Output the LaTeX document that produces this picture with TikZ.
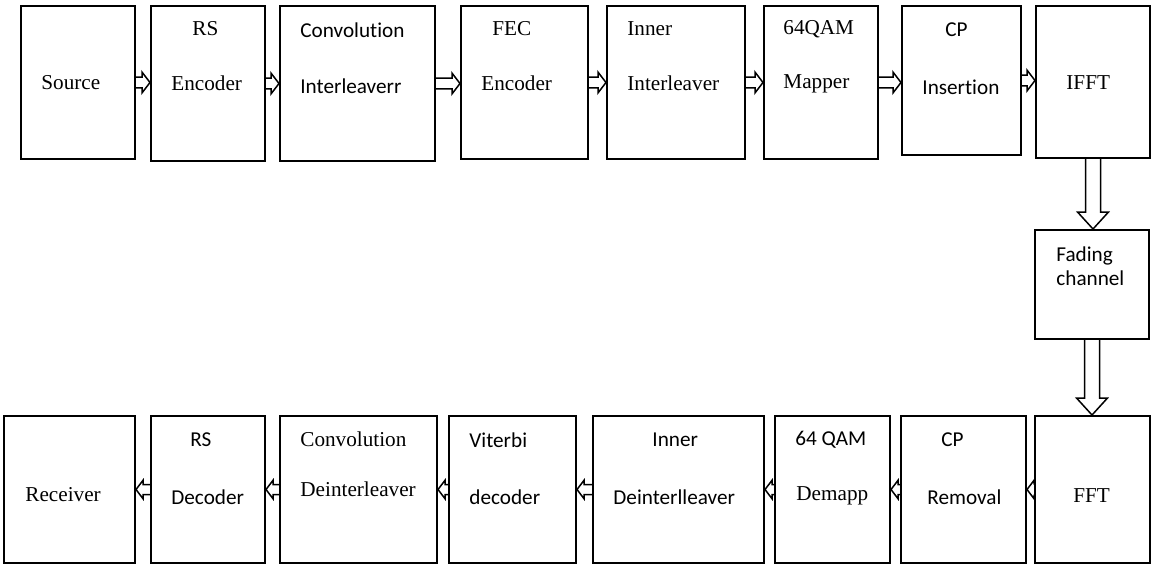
\documentclass[tikz,border=0pt]{standalone}
\usepackage{fontspec}
\setmainfont{Liberation Serif}
\newfontfamily\calfont[Ligatures=NoCommon]{Carlito}
\usetikzlibrary{calc}
\begin{document}
\begin{tikzpicture}[x=0.5pt,y=-0.5pt,
  blk/.style={draw, line width=1pt, inner sep=0pt, anchor=north west},
  lbl/.style={inner sep=0pt, anchor=west, font=\fontsize{10.6}{12}\selectfont},
  cal/.style={inner sep=0pt, anchor=west, font=\fontsize{10.6}{12}\selectfont\calfont},
  % hollow block arrows
  arrR/.style={line width=0.75pt, to path={let \p1=(\tikztostart), \p2=(\tikztotarget) in
    (\x1,\y1+2.7pt) -- (\x2-4pt,\y1+2.7pt) -- (\x2-4pt,\y1+5.2pt) -- (\x2,\y1)
    -- (\x2-4pt,\y1-5.2pt) -- (\x2-4pt,\y1-2.7pt) -- (\x1,\y1-2.7pt)}},
  arrL/.style={line width=0.75pt, to path={let \p1=(\tikztostart), \p2=(\tikztotarget) in
    (\x1,\y1+2.5pt) -- (\x2+3.5pt,\y1+2.5pt) -- (\x2+3.5pt,\y1+4.6pt) -- (\x2,\y1)
    -- (\x2+3.5pt,\y1-4.6pt) -- (\x2+3.5pt,\y1-2.5pt) -- (\x1,\y1-2.5pt)}},
  arrD/.style={line width=0.75pt, to path={let \p1=(\tikztostart), \p2=(\tikztotarget) in
    (\x1-3.75pt,\y1) -- (\x1-3.75pt,\y2+8.5pt) -- (\x1-7.75pt,\y2+8.5pt) -- (\x1,\y2)
    -- (\x1+7.75pt,\y2+8.5pt) -- (\x1+3.75pt,\y2+8.5pt) -- (\x1+3.75pt,\y1)}}
]
\useasboundingbox (0,0) rectangle (1151,563);

% transmitter chain
\node[blk, minimum width=57pt,   minimum height=76.5pt] (src)  at (20,5)   {};
\node[blk, minimum width=57pt,   minimum height=77.5pt] (rse)  at (150,5)  {};
\node[blk, minimum width=77.5pt, minimum height=77.5pt] (cvi)  at (279,5)  {};
\node[blk, minimum width=63.5pt, minimum height=76.5pt] (fec)  at (460,5)  {};
\node[blk, minimum width=69pt,   minimum height=76.5pt] (inr)  at (606,5)  {};
\node[blk, minimum width=57pt,   minimum height=76.5pt] (map)  at (763,5)  {};
\node[blk, minimum width=59.5pt, minimum height=74.5pt] (cpi)  at (901,5)  {};
\node[blk, minimum width=57pt,   minimum height=76pt]   (ifft) at (1035,5) {};

% channel
\node[blk, minimum width=57pt, minimum height=54.5pt] (fad) at (1034,229) {};

% receiver chain
\node[blk, minimum width=65.5pt, minimum height=73.5pt] (rcv) at (3,415)    {};
\node[blk, minimum width=57pt,   minimum height=73.5pt] (rsd) at (150,415)  {};
\node[blk, minimum width=78.5pt, minimum height=73.5pt] (cvd) at (279,415)  {};
\node[blk, minimum width=63.5pt, minimum height=73.5pt] (vit) at (448,415)  {};
\node[blk, minimum width=85.5pt, minimum height=73.5pt] (ind) at (592,415)  {};
\node[blk, minimum width=57.5pt, minimum height=73.5pt] (dem) at (774,415)  {};
\node[blk, minimum width=62.5pt, minimum height=73.5pt] (cpr) at (900,415)  {};
\node[blk, minimum width=57.5pt, minimum height=73.5pt] (fft) at (1034,415) {};

% labels, transmitter
\node[lbl] (l-src)  at (41,83)   {Source};
\node[lbl] (l-rs1)  at (192,29)  {RS};
\node[lbl] (l-rs2)  at (171,83)  {Encoder};
\node[cal] (l-cv1)  at (300,30)  {Convolution};
\node[cal] (l-cv2)  at (300,86)  {Interleaverr};
\node[lbl] (l-fe1)  at (492,29)  {FEC};
\node[lbl] (l-fe2)  at (481,83)  {Encoder};
\node[lbl] (l-in1)  at (627,29)  {Inner};
\node[lbl] (l-in2)  at (627,83)  {Interleaver};
\node[lbl] (l-mp1)  at (783,29)  {64QAM};
\node[lbl] (l-mp2)  at (783,84)  {Mapper};
\node[cal] (l-cp1)  at (945,30)  {CP};
\node[cal] (l-cp2)  at (922,87)  {Insertion};
\node[lbl] (l-ifft) at (1066,83) {IFFT};
\node[cal] (l-fd1)  at (1056,256) {Fading};
\node[cal] (l-fd2)  at (1056,278) {channel};

% labels, receiver
\node[lbl] (l-rcv)  at (25,495)  {Receiver};
\node[cal] (l-rd1)  at (190,440) {RS};
\node[cal] (l-rd2)  at (171,497) {Decoder};
\node[lbl] (l-cd1)  at (300,439) {Convolution};
\node[lbl] (l-cd2)  at (300,489) {Deinterleaver};
\node[cal] (l-vt1)  at (469,440) {Viterbi};
\node[cal] (l-vt2)  at (469,497) {decoder};
\node[cal] (l-id1)  at (652,440) {Inner};
\node[cal] (l-id2)  at (613,497) {Deinterlleaver};
\node[cal] (l-dm1)  at (795,440) {64 QAM};
\node[lbl] (l-dm2)  at (796,496) {Demapp};
\node[cal] (l-cr1)  at (941,440) {CP};
\node[cal] (l-cr2)  at (927,497) {Removal};
\node[lbl] (l-fft)  at (1073,496) {FFT};

% forward data flow
\draw[arrR] (src.east) to (rse.west);
\draw[arrR] (rse.east) to (cvi.west);
\draw[arrR] (cvi.east) to (fec.west);
\draw[arrR] (fec.east) to (inr.west);
\draw[arrR] (inr.east) to (map.west);
\draw[arrR] (map.east) to (cpi.west);
\draw[arrR] (cpi.east) to (ifft.west);
\draw[arrD] (ifft.south) to (fad.north);
\draw[arrD] (fad.south) to (fft.north);
\draw[arrL] (fft.west) to (cpr.east);
\draw[arrL] (cpr.west) to (dem.east);
\draw[arrL] (dem.west) to (ind.east);
\draw[arrL] (ind.west) to (vit.east);
\draw[arrL] (vit.west) to (cvd.east);
\draw[arrL] (cvd.west) to (rsd.east);
\draw[arrL] (rsd.west) to (rcv.east);
\end{tikzpicture}
\end{document}
